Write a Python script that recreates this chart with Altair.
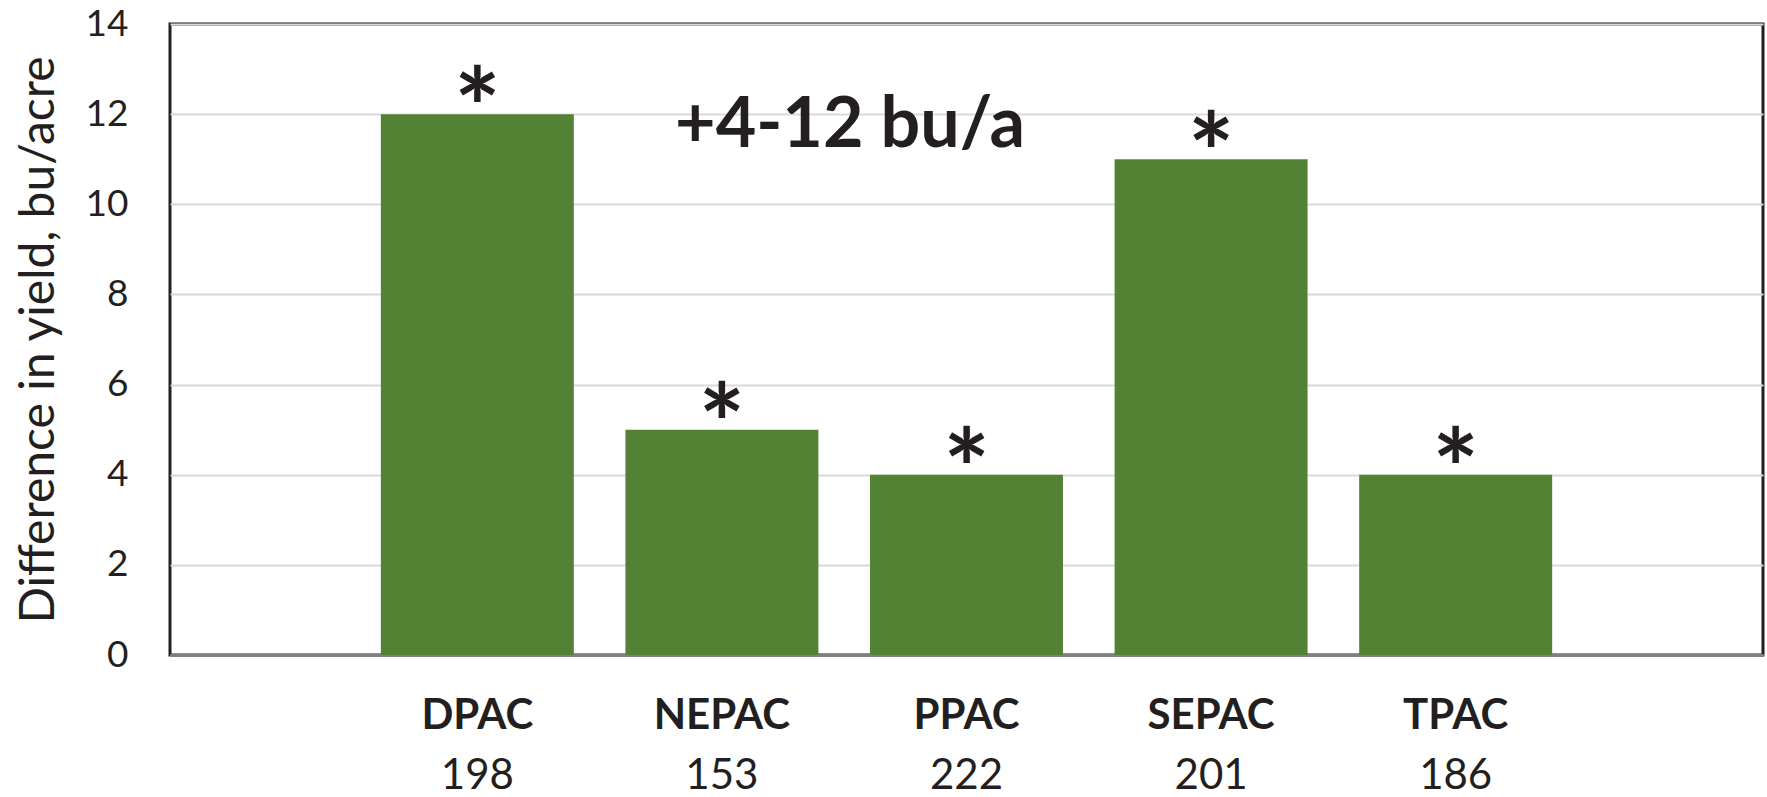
import altair as alt
import pandas as pd

sites = ["DPAC", "NEPAC", "PPAC", "SEPAC", "TPAC"]
counts = ["198", "153", "222", "201", "186"]
diff = [12, 5, 4, 11, 4]
marks = ["*", "*", "*", "*", "*"]
annotation = "+4-12 bu/a"

df = pd.DataFrame({
    "key": [f"{s}|{c}" for s, c in zip(sites, counts)],
    "diff": diff,
    "sig": marks,
})

FONT = "Lato"
TXT = "#231f20"

xscale = alt.Scale(paddingInner=0.211, paddingOuter=0.862)

bars = alt.Chart(df).mark_bar(color="#548235").encode(
    x=alt.X("key:N", sort=None, scale=xscale, title=None,
            axis=alt.Axis(orient="bottom", labelExpr="split(datum.label, '|')[0]",
                          labelFont=FONT, labelFontWeight="bold", labelFontSize=42,
                          labelColor=TXT, labelPadding=40, labelAngle=0,
                          ticks=False, domainColor="#808080", domainWidth=3)),
    y=alt.Y("diff:Q", scale=alt.Scale(domain=[0, 14]),
            title="Difference in yield, bu/acre",
            axis=alt.Axis(values=list(range(0, 15, 2)), ticks=False, domain=False,
                          gridColor="#d9d9d9", gridWidth=2,
                          labelFont=FONT, labelFontSize=37, labelColor=TXT,
                          labelPadding=42, titleFont=FONT, titleFontSize=48,
                          titleFontWeight="normal", titleColor=TXT, titlePadding=22)),
)

stars = alt.Chart(df).mark_text(font=FONT, fontWeight="bold", fontSize=110,
                                color=TXT, baseline="alphabetic", dy=34).encode(
    x=alt.X("key:N", sort=None, scale=xscale, title=None,
            axis=alt.Axis(orient="bottom", labelExpr="split(datum.label, '|')[1]",
                          labelFont=FONT, labelFontSize=42, labelColor=TXT,
                          labelPadding=100, labelAngle=0, ticks=False, domain=False,
                          grid=False)),
    y=alt.Y("diff:Q", scale=alt.Scale(domain=[0, 14])),
    text="sig:N",
)

note = alt.Chart(pd.DataFrame({"t": [annotation]})).mark_text(
    font=FONT, fontWeight="bold", fontSize=70, color=TXT, baseline="alphabetic"
).encode(x=alt.value(680), y=alt.value(123), text="t:N")

chart = alt.layer(bars, stars, note).resolve_axis(x="independent").properties(
    width=1593, height=631,
    background="white",
    autosize=alt.AutoSizeParams(type="none"),
    padding={"left": 170, "top": 24, "right": 4, "bottom": 142},
).configure_view(stroke="#231f20", strokeWidth=3)

chart.save("out.html", embed_options={"renderer": "svg", "actions": False})
